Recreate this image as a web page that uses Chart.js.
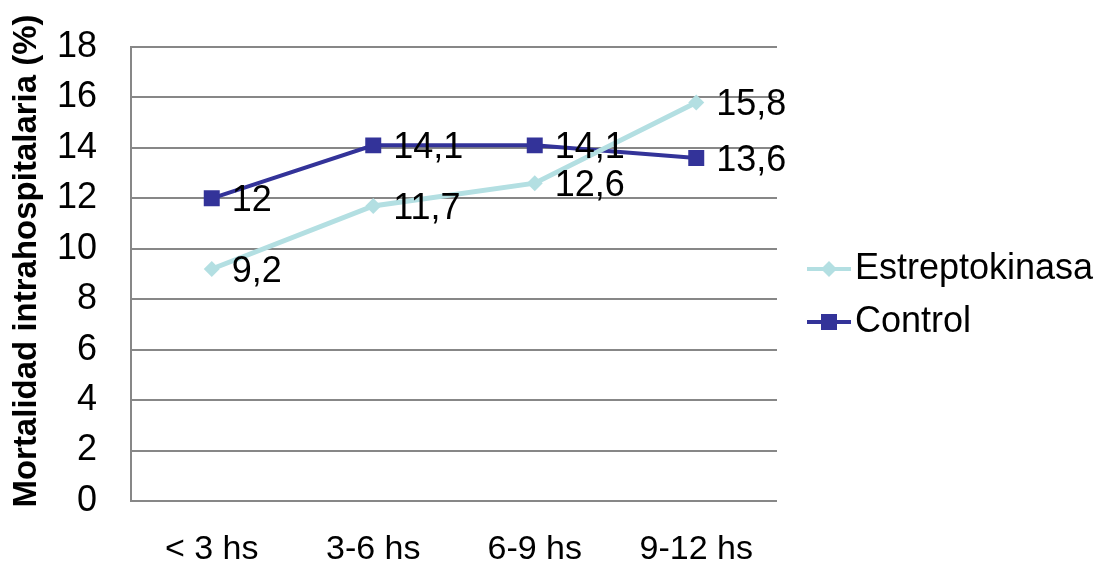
<!DOCTYPE html>
<html>
<head>
<meta charset="utf-8">
<script src="https://cdn.jsdelivr.net/npm/chart.js@4.4.1/dist/chart.umd.min.js"></script>
<style>
  html, body { margin: 0; padding: 0; background: #fff; }
  #myChart { display: block; }
</style>
</head>
<body>
<canvas id="myChart" width="1109" height="561"></canvas>
<script>
var categories = ['< 3 hs', '3-6 hs', '6-9 hs', '9-12 hs'];
var estreptokinasa = [9.2, 11.7, 12.6, 15.8];
var control = [12, 14.1, 14.1, 13.6];
var seriesNames = ['Estreptokinasa', 'Control'];
var yTicks = [0, 2, 4, 6, 8, 10, 12, 14, 16, 18];
var yTitle = 'Mortalidad intrahospitalaria (%)';

var cyan = '#b3dfe2';
var navy = '#333399';
var grey = '#878787';
var fontFamily = '"Liberation Sans", Arial, sans-serif';

// numbers with decimal comma, drawn right of each point
const valueLabels = {
  id: 'valueLabels',
  afterDatasetsDraw(chart) {
    var ctx = chart.ctx;
    ctx.save();
    ctx.font = '36px ' + fontFamily;
    ctx.fillStyle = '#000';
    ctx.textAlign = 'left';
    ctx.textBaseline = 'middle';
    chart.data.datasets.forEach(function (ds, i) {
      chart.getDatasetMeta(i).data.forEach(function (pt, j) {
        var txt = String(ds.data[j]).replace('.', ',');
        ctx.fillText(txt, pt.x + 20, pt.y + 3);
      });
    });
    ctx.restore();
  }
};

// y title sits a little above the middle of the axis, so it's drawn by hand
const axisTitle = {
  id: 'axisTitle',
  afterDraw(chart) {
    var ctx = chart.ctx;
    ctx.save();
    ctx.translate(27, 261);
    ctx.rotate(-Math.PI / 2);
    ctx.font = 'bold 33px ' + fontFamily;
    ctx.fillStyle = '#000';
    ctx.textAlign = 'center';
    ctx.textBaseline = 'middle';
    ctx.fillText(yTitle, 0, 0);
    ctx.restore();
  }
};

// legend on the right: short line with marker, then name
const sideLegend = {
  id: 'sideLegend',
  afterDraw(chart) {
    var ctx = chart.ctx;
    var rows = [
      { name: seriesNames[0], color: cyan, y: 269, shape: 'diamond' },
      { name: seriesNames[1], color: navy, y: 322, shape: 'square' }
    ];
    ctx.save();
    rows.forEach(function (r) {
      ctx.strokeStyle = r.color;
      ctx.lineWidth = 4;
      ctx.beginPath();
      ctx.moveTo(807, r.y);
      ctx.lineTo(851, r.y);
      ctx.stroke();
      ctx.fillStyle = r.color;
      if (r.shape === 'square') {
        ctx.fillRect(821, r.y - 8, 16, 16);
      } else {
        ctx.beginPath();
        ctx.moveTo(829, r.y - 8);
        ctx.lineTo(837, r.y);
        ctx.lineTo(829, r.y + 8);
        ctx.lineTo(821, r.y);
        ctx.closePath();
        ctx.fill();
      }
      ctx.fillStyle = '#000';
      ctx.font = '36px ' + fontFamily;
      ctx.textAlign = 'left';
      ctx.textBaseline = 'middle';
      ctx.fillText(r.name, 855, r.y);
    });
    ctx.restore();
  }
};

const data = {
  labels: categories,
  datasets: [{
    label: seriesNames[0],
    data: estreptokinasa,
    borderColor: cyan,
    backgroundColor: cyan,
    borderWidth: 5,
    pointStyle: 'rectRot',
    pointRadius: 8,
    pointBorderWidth: 0,
    fill: false,
    tension: 0
  }, {
    label: seriesNames[1],
    data: control,
    borderColor: navy,
    backgroundColor: navy,
    borderWidth: 4,
    pointStyle: 'rect',
    pointRadius: 11.3,
    pointBorderWidth: 0,
    fill: false,
    tension: 0
  }]
};

const config = {
  type: 'line',
  data: data,
  options: {
    responsive: false,
    animation: false,
    layout: { padding: { top: 47, right: 332, left: 0, bottom: 0 } },
    plugins: {
      legend: { display: false },
      tooltip: { enabled: false }
    },
    scales: {
      x: {
        offset: true,
        grid: { display: false },
        border: { display: false },
        ticks: {
          color: '#000',
          font: { family: fontFamily, size: 34 },
          padding: 20,
          maxRotation: 0
        },
        afterFit: function (s) { s.height = 60; }
      },
      y: {
        min: 0,
        max: 18,
        afterBuildTicks: function (s) {
          s.ticks = yTicks.map(function (v) { return { value: v }; });
        },
        grid: { color: grey, lineWidth: 2, drawTicks: true, tickLength: 24, tickColor: 'rgba(0,0,0,0)' },
        border: { color: grey, width: 2 },
        ticks: {
          color: '#000',
          font: { family: fontFamily, size: 36 },
          padding: 10
        },
        afterFit: function (s) { s.width = 131; }
      }
    }
  },
  plugins: [valueLabels, axisTitle, sideLegend]
};

var myChart = new Chart(document.getElementById('myChart'), config);
</script>
</body>
</html>
